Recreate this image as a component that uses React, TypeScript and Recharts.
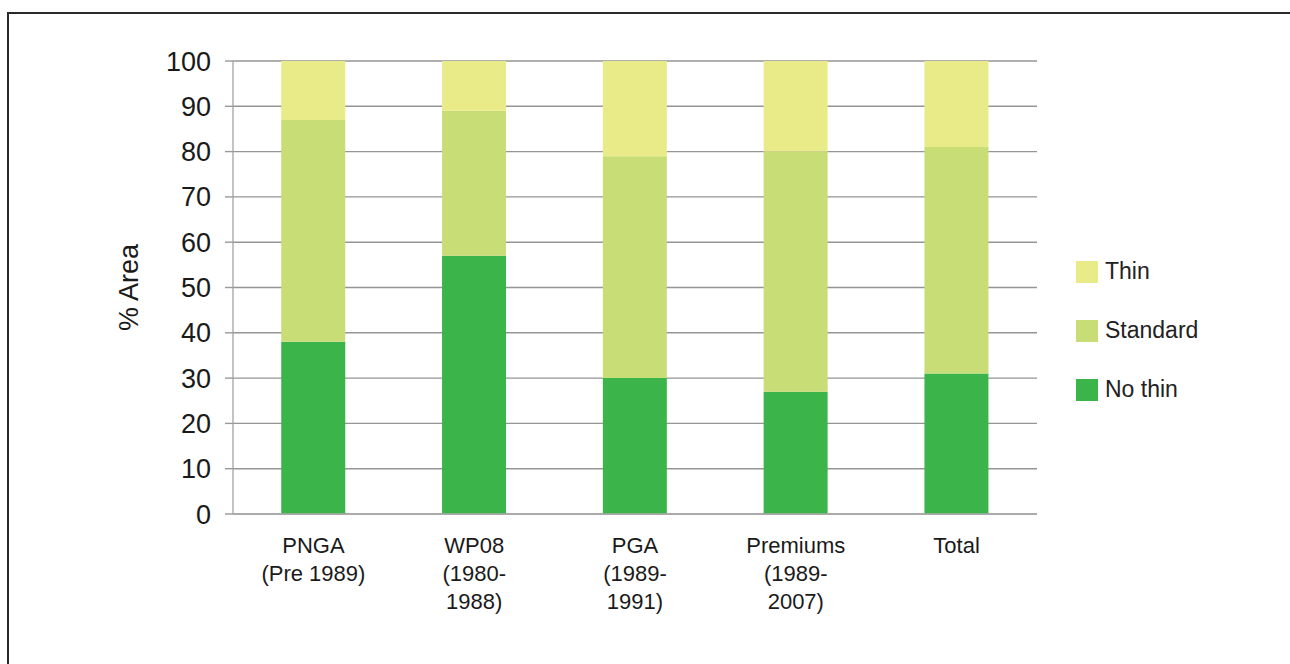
import { BarChart, Bar, XAxis, YAxis, CartesianGrid, Legend, Label } from 'recharts';

// categories (the multi-line labels are split into lines for the custom tick)
const categories = ['PNGA (Pre 1989)', 'WP08 (1980-1988)', 'PGA (1989-1991)', 'Premiums (1989-2007)', 'Total'];
const categoryLines = [
    ['PNGA', '(Pre 1989)'],
    ['WP08', '(1980-', '1988)'],
    ['PGA', '(1989-', '1991)'],
    ['Premiums', '(1989-', '2007)'],
    ['Total'],
];

// % area per thinning regime
const noThin = [38, 57, 30, 27, 31];
const standard = [49, 32, 49, 53, 50];
const thin = [13, 11, 21, 20, 19];

const yTicks = [0, 10, 20, 30, 40, 50, 60, 70, 80, 90, 100];
const edgeTicks = [0, 1, 2, 3, 4, 5];

const series = [
    { key: 'noThin', name: 'No thin', color: '#3bb54a' },
    { key: 'standard', name: 'Standard', color: '#c8dd76' },
    { key: 'thin', name: 'Thin', color: '#e9eb89' },
];

const data = categories.map((c, i) => ({
    category: c,
    noThin: noThin[i],
    standard: standard[i],
    thin: thin[i],
}));

const FONT = '"Liberation Sans", Arial, Helvetica, sans-serif';

const CategoryTick = (props: any) => {
    const { x, y, payload } = props;
    const idx = categories.indexOf(payload.value);
    const lines = categoryLines[idx] ?? [payload.value];
    return (
        <text x={x} y={y} textAnchor="middle" fill="#1a1a1a" fontSize={22} fontFamily={FONT}>
            {lines.map((l, i) => (
                <tspan key={i} x={x} dy={i === 0 ? 39 : 28}>
                    {l}
                </tspan>
            ))}
        </text>
    );
};

const renderLegend = () => (
    <div style={{ fontFamily: FONT }}>
        {[...series].reverse().map(s => (
            <div key={s.key} style={{ display: 'flex', alignItems: 'center', height: 59 }}>
                <span style={{ width: 22, height: 22, background: s.color, display: 'inline-block' }} />
                <span style={{ marginLeft: 7, fontSize: 23, color: '#222' }}>{s.name}</span>
            </div>
        ))}
    </div>
);

export default function App() {
    return (
        <div
            style={{
                position: 'absolute',
                left: 0,
                top: 0,
                width: 1290,
                height: 664,
                overflow: 'hidden',
                background: '#fff',
                fontFamily: FONT,
            }}
        >
            <div
                style={{
                    position: 'absolute',
                    left: 7,
                    top: 12,
                    width: 1300,
                    height: 700,
                    boxSizing: 'border-box',
                    borderLeft: '2px solid #2a2a2a',
                    borderTop: '2px solid #2a2a2a',
                }}
            />
            <div style={{ position: 'absolute', left: 0, top: 0 }}>
                <BarChart
                    width={1290}
                    height={664}
                    data={data}
                    margin={{ top: 61, right: 253, bottom: 50, left: 173 }}
                    barCategoryGap="30%"
                >
                    <CartesianGrid xAxisId="cat" vertical={false} stroke="#959595" strokeWidth={1.4} />
                    <XAxis
                        xAxisId="edges"
                        type="number"
                        domain={[0, 5]}
                        ticks={edgeTicks}
                        allowDataOverflow
                        height={0}
                        axisLine={false}
                        tickSize={8}
                        tickLine={{ stroke: '#999', strokeWidth: 1.4 }}
                        tickFormatter={() => ''}
                    />
                    <XAxis
                        xAxisId="cat"
                        dataKey="category"
                        height={100}
                        interval={0}
                        tickLine={false}
                        tickSize={0}
                        tickMargin={0}
                        axisLine={{ stroke: '#aaa', strokeWidth: 1.4 }}
                        tick={<CategoryTick />}
                    />
                    <YAxis
                        width={60}
                        domain={[0, 100]}
                        ticks={yTicks}
                        interval={0}
                        tickSize={8}
                        tickMargin={14}
                        axisLine={{ stroke: '#aaa', strokeWidth: 1.4 }}
                        tickLine={{ stroke: '#999', strokeWidth: 1.4 }}
                        tick={{ fill: '#1a1a1a', fontSize: 27, fontFamily: FONT }}
                    >
                        <Label
                            value="% Area"
                            angle={-90}
                            position="center"
                            dx={-75}
                            style={{ fill: '#1a1a1a', fontSize: 27, fontFamily: FONT }}
                        />
                    </YAxis>
                    <Legend
                        layout="vertical"
                        align="center"
                        verticalAlign="middle"
                        wrapperStyle={{ left: 1076, top: 242, width: 200 }}
                        content={renderLegend}
                    />
                    {series.map(s => (
                        <Bar
                            key={s.key}
                            xAxisId="cat"
                            dataKey={s.key}
                            name={s.name}
                            stackId="a"
                            fill={s.color}
                            isAnimationActive={false}
                        />
                    ))}
                </BarChart>
            </div>
        </div>
    );
}
